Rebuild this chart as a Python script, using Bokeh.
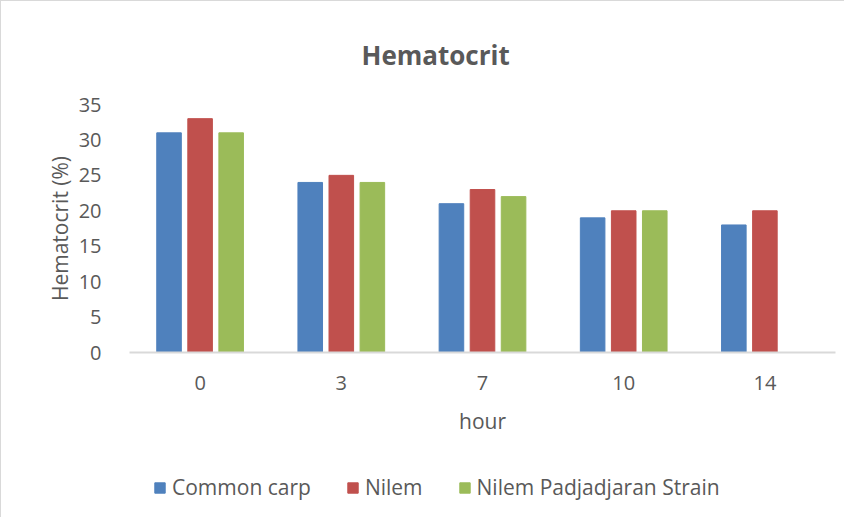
from bokeh.plotting import figure
from bokeh.layouts import column
from bokeh.models import FactorRange, Range1d, FixedTicker, Legend, LegendItem, ColumnDataSource
from bokeh.transform import dodge
from bokeh.embed import file_html
from bokeh.resources import INLINE

hours = ["0", "3", "7", "10", "14"]
common_carp = [31, 24, 21, 19, 18]
nilem = [33, 25, 23, 20, 20]
nilem_padjadjaran = [31, 24, 22, 20, float("nan")]
series_names = ["Common carp", "Nilem", "Nilem Padjadjaran Strain"]
colors = ["#4F81BD", "#C0504D", "#9BBB59"]
y_ticks = [0, 5, 10, 15, 20, 25, 30, 35]

FONT = "Open Sans"
TXT = "#595959"

src = ColumnDataSource(dict(hour=hours, cc=common_carp, ni=nilem, np_=nilem_padjadjaran))
keys = ["cc", "ni", "np_"]
offsets = [-0.22, 0.0, 0.22]

p = figure(x_range=FactorRange(*hours, range_padding=0), y_range=Range1d(0, 35),
           frame_width=705, frame_height=247, output_backend="svg", toolbar_location=None,
           min_border_left=128, min_border_right=10, min_border_top=103, min_border_bottom=100,
           title="Hematocrit")
p.styles = {"border-left": "1px solid #d9d9d9", "border-top": "1px solid #d9d9d9"}

p.title.align = "left"
p.title.offset = 232
p.title.text_font = FONT
p.title.text_font_size = "26px"
p.title.text_font_style = "bold"
p.title.text_color = TXT
p.title.standoff = 64

for k, off, c in zip(keys, offsets, colors):
    p.vbar(x=dodge("hour", off, range=p.x_range), top=k, width=0.174, source=src,
           fill_color=c, line_color=c)

p.xgrid.grid_line_color = None
p.ygrid.grid_line_color = None
p.outline_line_color = None

p.yaxis.ticker = FixedTicker(ticks=y_ticks)
p.yaxis.axis_line_color = None
p.yaxis.major_tick_line_color = None
p.yaxis.minor_tick_line_color = None
p.yaxis.major_label_standoff = 22
p.yaxis.axis_label = "Hematocrit (%)"
p.yaxis.axis_label_standoff = 2

p.xaxis.axis_line_color = "#d9d9d9"
p.xaxis.axis_line_width = 2
p.xaxis.major_tick_line_color = None
p.xaxis.minor_tick_line_color = None
p.xaxis.major_label_standoff = 17
p.xaxis.axis_label = "hour"
p.xaxis.axis_label_standoff = 14

for ax in (p.xaxis, p.yaxis):
    ax.major_label_text_font = FONT
    ax.major_label_text_font_size = "20px"
    ax.major_label_text_color = TXT
    ax.axis_label_text_font = FONT
    ax.axis_label_text_font_size = "21px"
    ax.axis_label_text_color = TXT
    ax.axis_label_text_font_style = "normal"

# legend strip below the chart (same series, drawn out of this strip's view)
p2 = figure(width=843, height=66, x_range=p.x_range, y_range=Range1d(100, 101),
            output_backend="svg", toolbar_location=None, min_border=0,
            x_axis_location=None, y_axis_location=None)
p2.styles = {"border-left": "1px solid #d9d9d9"}
p2.xgrid.grid_line_color = None
p2.ygrid.grid_line_color = None
p2.outline_line_color = None
leg_renderers = [p2.vbar(x=dodge("hour", off, range=p2.x_range), top=k, width=0.174, source=src,
                         fill_color=c, line_color=c)
                 for k, off, c in zip(keys, offsets, colors)]

legend = Legend(items=[LegendItem(label=n, renderers=[r]) for n, r in zip(series_names, leg_renderers)],
                orientation="horizontal", location=(24, 16))
legend.label_text_font = FONT
legend.label_text_font_size = "21px"
legend.label_text_color = TXT
legend.glyph_width = 13
legend.glyph_height = 13
legend.label_standoff = 6
legend.spacing = 35
legend.border_line_color = None
legend.background_fill_alpha = 0
legend.margin = 0
legend.padding = 0
p2.add_layout(legend, "center")

layout = column(p, p2, spacing=0)
open("out.html", "w").write(file_html(layout, INLINE))
